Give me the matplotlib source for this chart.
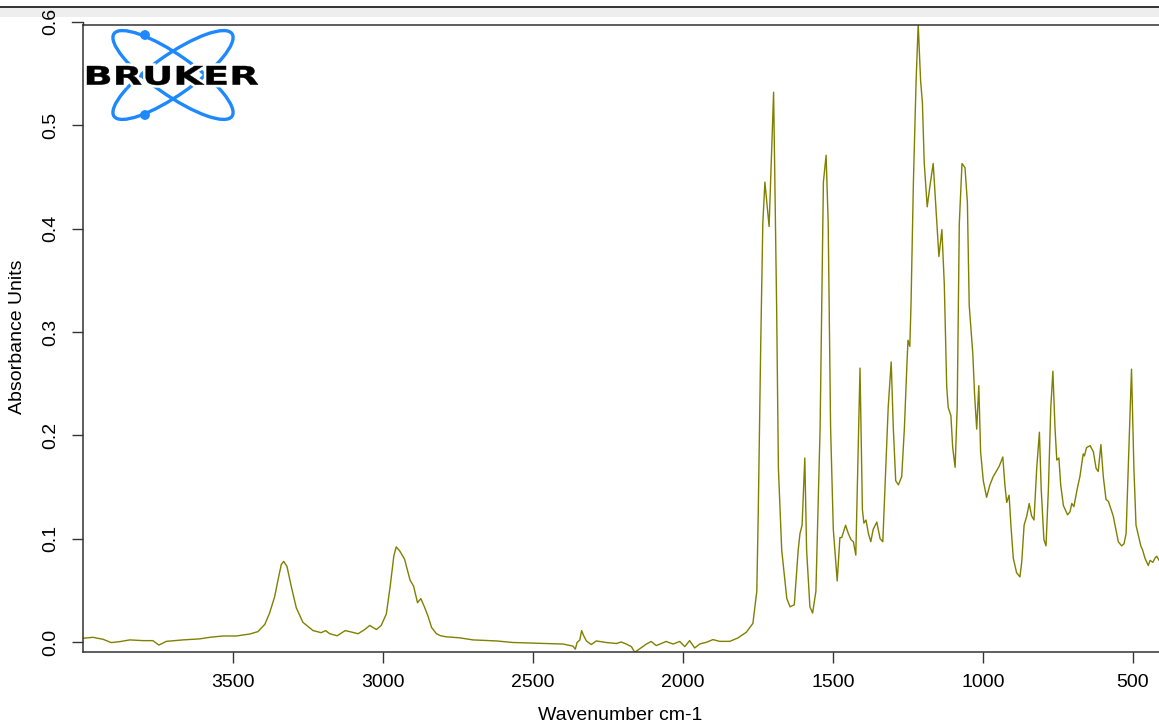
#!/usr/bin/env python3
# -*- coding: utf-8 -*-

import matplotlib
matplotlib.use('Agg')
import matplotlib.pyplot as plt
from matplotlib.patches import Ellipse, Circle, PathPatch, Rectangle
from matplotlib.textpath import TextPath
from matplotlib.font_manager import FontProperties
from matplotlib.transforms import Affine2D, blended_transform_factory
from matplotlib.lines import Line2D

# spectrum, 4000 -> 1800 cm-1
wn_high = [4000, 3967, 3933, 3906, 3878, 3844, 3800, 3767, 3747, 3722, 3667, 3611,
           3578, 3533, 3489, 3444, 3417, 3394, 3378, 3361, 3350, 3339, 3331, 3320,
           3306, 3289, 3267, 3233, 3206, 3191, 3178, 3153, 3126, 3111, 3083, 3061,
           3044, 3022, 3006, 2989, 2976, 2964, 2956, 2944, 2928, 2910, 2898, 2885,
           2874, 2862, 2850, 2838, 2822, 2808, 2789, 2744, 2700, 2622, 2567, 2511,
           2456, 2400, 2367, 2359, 2353, 2344, 2338, 2331, 2322, 2306, 2289, 2256,
           2222, 2206, 2189, 2172, 2161, 2144, 2122, 2106, 2089, 2056, 2033, 2011,
           1994, 1978, 1961, 1944, 1922, 1900, 1878, 1844, 1817]
abs_high = [0.0036, 0.0045, 0.0026, -0.0006, 0.0003, 0.0020, 0.0013, 0.0013, -0.0030, 0.0006, 0.0020, 0.0030,
            0.0045, 0.0058, 0.0058, 0.0077, 0.0100, 0.0170, 0.0280, 0.0440, 0.0600, 0.0750, 0.0780, 0.0730,
            0.0540, 0.0330, 0.0190, 0.0110, 0.0090, 0.0110, 0.0080, 0.0060, 0.0110, 0.0100, 0.0080, 0.0120,
            0.0160, 0.0120, 0.0160, 0.0270, 0.0540, 0.0830, 0.0920, 0.0880, 0.0800, 0.0600, 0.0540, 0.0380,
            0.0420, 0.0340, 0.0250, 0.0140, 0.0080, 0.0060, 0.0050, 0.0040, 0.0020, 0.0010, -0.0005, -0.0010,
            -0.0015, -0.0020, -0.0040, -0.0070, -0.0005, 0.0020, 0.0110, 0.0060, 0.0010, -0.0025, 0.0010, -0.0005,
            -0.0015, 0.0000, -0.0020, -0.0045, -0.0100, -0.0065, -0.0020, 0.0005, -0.0035, 0.0005, -0.0020, 0.0005,
            -0.0045, 0.0013, -0.0058, -0.0019, -0.0003, 0.0023, 0.0006, 0.0006, 0.0039]

# fingerprint part, 1800 -> 413 cm-1
wn_fp = [1789, 1767, 1754, 1749, 1741, 1734, 1727, 1713, 1698, 1688, 1682, 1671,
         1654, 1643, 1629, 1616, 1610, 1603, 1594, 1588, 1577, 1568, 1557, 1543,
         1532, 1523, 1516, 1508, 1499, 1486, 1477, 1471, 1458, 1449, 1440, 1432,
         1424, 1419, 1410, 1402, 1397, 1390, 1382, 1374, 1366, 1354, 1343, 1334,
         1324, 1316, 1306, 1299, 1291, 1282, 1271, 1262, 1254, 1250, 1244, 1240,
         1232, 1223, 1216, 1208, 1202, 1196, 1186, 1177, 1166, 1158, 1147, 1137,
         1129, 1121, 1116, 1107, 1101, 1093, 1086, 1079, 1070, 1060, 1052, 1046,
         1034, 1028, 1021, 1014, 1008, 999, 988, 977, 966, 954, 946, 934,
         927, 921, 913, 907, 899, 888, 877, 871, 863, 854, 846, 838,
         830, 821, 812, 806, 797, 790, 782, 774, 767, 760, 754, 747,
         741, 732, 718, 710, 704, 697, 686, 677, 666, 662, 655, 643,
         632, 623, 616, 607, 599, 590, 582, 575, 566, 557, 549, 538,
         530, 523, 516, 505, 497, 490, 482, 474, 468, 460, 449, 443,
         434, 427, 421, 413]
abs_fp = [0.0094, 0.018, 0.049, 0.128, 0.286, 0.405, 0.445, 0.402, 0.532, 0.326, 0.168, 0.089,
          0.042, 0.034, 0.036, 0.089, 0.105, 0.113, 0.178, 0.089, 0.034, 0.028, 0.049, 0.207,
          0.445, 0.471, 0.405, 0.207, 0.109, 0.059, 0.101, 0.101, 0.113, 0.105, 0.099, 0.097,
          0.084, 0.148, 0.265, 0.128, 0.115, 0.118, 0.105, 0.097, 0.109, 0.116, 0.100, 0.097,
          0.168, 0.227, 0.271, 0.207, 0.156, 0.152, 0.160, 0.207, 0.266, 0.292, 0.286, 0.326,
          0.445, 0.543, 0.598, 0.543, 0.522, 0.464, 0.421, 0.441, 0.463, 0.425, 0.373, 0.399,
          0.346, 0.247, 0.227, 0.219, 0.188, 0.169, 0.227, 0.405, 0.463, 0.459, 0.425, 0.326,
          0.279, 0.239, 0.206, 0.248, 0.184, 0.156, 0.140, 0.152, 0.160, 0.166, 0.170, 0.179,
          0.152, 0.135, 0.142, 0.113, 0.081, 0.067, 0.063, 0.077, 0.113, 0.122, 0.134, 0.122,
          0.118, 0.168, 0.203, 0.148, 0.099, 0.093, 0.148, 0.227, 0.262, 0.207, 0.176, 0.178,
          0.152, 0.132, 0.123, 0.126, 0.134, 0.131, 0.148, 0.160, 0.182, 0.180, 0.188, 0.190,
          0.184, 0.168, 0.165, 0.191, 0.160, 0.138, 0.136, 0.130, 0.122, 0.109, 0.097, 0.093,
          0.095, 0.105, 0.168, 0.264, 0.168, 0.113, 0.103, 0.093, 0.089, 0.081, 0.074, 0.079,
          0.077, 0.081, 0.083, 0.079]

x_ticks = [3500, 3000, 2500, 2000, 1500, 1000, 500]
y_ticks = [0.0, 0.1, 0.2, 0.3, 0.4, 0.5]

W, H = 1159, 725
LINE = '#808000'
AXC = '#333333'


def px_box(x0, y0, x1, y1):
  # pixel box (y from top) -> figure fraction rect
  return [x0 / W, 1 - y1 / H, (x1 - x0) / W, (y1 - y0) / H]


def draw_logo(fig):
  lax = fig.add_axes(px_box(80, 22, 265, 125))
  lax.set_xlim(80, 265)
  lax.set_ylim(125, 22)
  lax.set_axis_off()
  blue = '#1e88ff'
  for ang in (35, -35):
    lax.add_patch(Ellipse((173, 75), 144, 40, angle=ang, fill=False, ec=blue, lw=2.4, zorder=1))
  lax.add_patch(Circle((145, 35), 4.2, color=blue, zorder=2))
  lax.add_patch(Circle((145, 115), 4.2, color=blue, zorder=2))

  tp = TextPath((0, 0), 'BRUKER', size=100, prop=FontProperties(family='DejaVu Sans', weight='bold'))
  ext = tp.get_extents()
  tr = Affine2D().translate(-ext.x0, -ext.y0).scale(171 / ext.width, -19 / ext.height).translate(87, 85)
  path = tr.transform_path(tp)
  lax.add_patch(PathPatch(path, fc='white', ec='white', lw=4, zorder=3))
  lax.add_patch(PathPatch(path, fc='black', ec='black', lw=0.3, zorder=4))


def main():
  plt.rcParams['font.family'] = ['Liberation Sans', 'DejaVu Sans']

  fig = plt.figure(figsize=(W / 100, H / 100), dpi=100)

  # screenshot window edge at the top, kept behind everything
  fig.add_artist(Rectangle((0, 1 - 17 / H), 1, 9 / H, transform=fig.transFigure,
                           color='#eeeeee', lw=0, zorder=-2))
  fig.add_artist(Line2D([0, 1], [1 - 7 / H] * 2, transform=fig.transFigure,
                        color='#222222', lw=1.3, zorder=-1))

  ax = fig.add_axes(px_box(83, 25, 1163, 652))
  wn = wn_high + wn_fp
  absorb = abs_high + abs_fp
  ax.plot(wn, absorb, color=LINE, lw=1.0)

  ax.set_xlim(4000, 400)
  ax.set_ylim(-0.0097, 0.597)
  ax.set_xticks(x_ticks)
  ax.set_xticklabels([str(v) for v in x_ticks])
  ax.set_yticks(y_ticks)
  ax.set_yticklabels(['{:.1f}'.format(v) for v in y_ticks])
  ax.tick_params(direction='out', length=8, width=1, color=AXC, labelsize=14, pad=8)
  ax.tick_params(axis='y', labelrotation=90, pad=9)
  for lab in ax.get_yticklabels():
    lab.set_va('center')
  for sp in ax.spines.values():
    sp.set_color(AXC)
    sp.set_linewidth(1.1)

  # R draws the 0.6 tick just above the box
  trans = blended_transform_factory(ax.transAxes, ax.transData)
  ax.plot([-11 / 1080, 0, 0], [0.6, 0.6, 0.597], transform=trans, clip_on=False, color=AXC, lw=1)
  ax.annotate('0.6', xy=(0, 0.6), xycoords=trans, xytext=(-17, 0), textcoords='offset points',
              ha='right', va='center', rotation=90, fontsize=14, annotation_clip=False)

  fig.text(620 / W, 1 - 715 / H, 'Wavenumber cm-1', ha='center', va='center', fontsize=14)
  fig.text(18 / W, 1 - 337 / H, 'Absorbance Units', ha='center', va='center', rotation=90, fontsize=14)

  draw_logo(fig)

  fig.savefig('out.png', dpi=100)
  return 0


if __name__ == '__main__':
  main()
